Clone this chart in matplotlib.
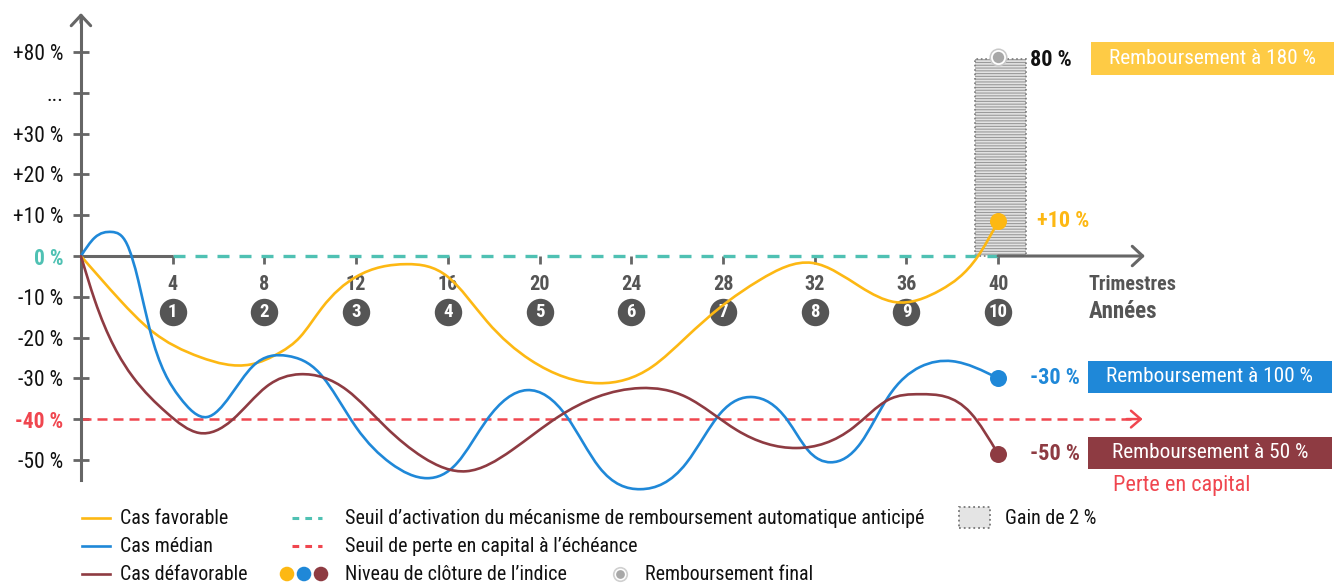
import numpy as np
import matplotlib
matplotlib.use('Agg')
import matplotlib.pyplot as plt
from matplotlib.path import Path
from matplotlib.patches import PathPatch, Rectangle

plt.rcParams['font.family'] = ['Roboto Condensed', 'Liberation Sans Narrow', 'DejaVu Sans Condensed', 'DejaVu Sans']

# --- données (trimestre, niveau de l'indice en %) ---
fav_q = [0, 1.7, 3, 5.2, 7.4, 8.7, 9.55, 10.5, 12, 14.2, 16, 17.7, 19.6, 22.6, 24.9, 26.4, 27.9, 29.6, 31.9, 34, 35.5, 37.5, 39.1, 40]
fav_v = [0, -10.8, -18, -24.8, -26.6, -23.6, -19.9, -12.8, -5.1, -2, -5.1, -16, -25.5, -31.2, -27.2, -19.9, -12.5, -5.9, -1.7, -7.6, -11.3, -8.3, -0.2, 8.5]

med_q = [0, 0.6, 1.35, 2.0, 2.5, 3, 4.3, 5.5, 7.5, 9, 10.4, 12, 13.5, 15.1, 16.4, 17.7, 19.45, 21.2, 22.6, 24.4, 26.4, 27.9, 29.3, 30.8, 31.7, 32.7, 34, 35.2, 36.6, 38, 40]
med_v = [0, 4.5, 5.9, 3, -6, -18, -34.6, -39.5, -27, -24.5, -28.7, -42, -50.8, -54.5, -50.8, -40.2, -32.9, -39.5, -51.8, -57.2, -50.8, -38.5, -34.6, -40.2, -47.6, -50.6, -45.9, -34.6, -27.2, -25.8, -30]

def_q = [0, 0.6, 2.27, 3.75, 5.15, 6.6, 8.1, 9.55, 11.6, 13.3, 14.9, 16.8, 18.8, 20.8, 22.5, 24.4, 26.4, 28.6, 31.2, 33.7, 35.2, 36.6, 38.8, 40]
def_v = [0, -10.8, -29.7, -38.5, -43.4, -40.2, -32, -29, -32.9, -42, -49.3, -52.8, -47.6, -39.5, -34.6, -32.4, -34.6, -42.7, -47.1, -42, -35.3, -33.9, -38.5, -48.6]

quarters = [4, 8, 12, 16, 20, 24, 28, 32, 36, 40]
years = ['1', '2', '3', '4', '5', '6', '7', '8', '9', '10']
y_ticks = [-50, -40, -30, -20, -10, 0, 10, 20, 30, 55, 80]
y_labels = ['-50 %', '-40 %', '-30 %', '-20 %', '-10 %', '0 %', '+10 %', '+20 %', '+30 %', '...', '+80 %']

activation_level = 0
loss_level = -40
gain_top = 76
final_q = 40

YELLOW = '#fdb813'
BLUE = '#1f88d8'
DARKRED = '#8e3b42'
TEAL = '#4fc1b3'
RED = '#f0464f'
GREY = '#666666'
DGREY = '#555555'


def fwd(v):
    v = np.asarray(v, float)
    return np.where(v <= 30, v / 10.0, 3 + (v - 30) / 25.0)


def inv(d):
    d = np.asarray(d, float)
    return np.where(d <= 3, d * 10.0, 30 + (d - 3) * 25.0)


def smooth_path(xs, ys):
    # spline cubique naturelle passant par les points lus, tracée en segments de Bézier
    x = np.asarray(xs, float)
    y = np.asarray(ys, float)
    n = len(x)
    h = np.diff(x)
    A = np.zeros((n, n))
    b = np.zeros(n)
    A[0, 0] = A[-1, -1] = 1
    for i in range(1, n - 1):
        A[i, i - 1] = h[i - 1]
        A[i, i] = 2 * (h[i - 1] + h[i])
        A[i, i + 1] = h[i]
        b[i] = 6 * ((y[i + 1] - y[i]) / h[i] - (y[i] - y[i - 1]) / h[i - 1])
    M = np.linalg.solve(A, b)
    m = np.zeros(n)
    for i in range(n - 1):
        m[i] = (y[i + 1] - y[i]) / h[i] - h[i] * (2 * M[i] + M[i + 1]) / 6
    m[-1] = (y[-1] - y[-2]) / h[-1] + h[-1] * (M[-2] + 2 * M[-1]) / 6
    verts = [(x[0], y[0])]
    codes = [Path.MOVETO]
    for i in range(n - 1):
        verts += [(x[i] + h[i] / 3, y[i] + m[i] * h[i] / 3),
                  (x[i + 1] - h[i] / 3, y[i + 1] - m[i + 1] * h[i] / 3),
                  (x[i + 1], y[i + 1])]
        codes += [Path.CURVE4] * 3
    return Path(verts, codes)


fig = plt.figure(figsize=(13.38, 5.85), dpi=100)
ax = fig.add_axes([0, 0, 1, 1])
ax.set_yscale('function', functions=(fwd, inv))
ax.set_xlim(-3.53, 54.82)
ax.set_ylim(-80.7, 112)

# axes
ax.spines['top'].set_visible(False)
ax.spines['right'].set_visible(False)
ax.spines['left'].set_position(('data', 0))
ax.spines['left'].set_bounds(-55, 102)
ax.spines['left'].set_color(GREY)
ax.spines['left'].set_linewidth(2.2)
ax.spines['bottom'].set_position(('data', 0))
ax.spines['bottom'].set_visible(False)
ax.annotate('', xy=(0, 104), xytext=(0, 98),
            arrowprops=dict(arrowstyle='->,head_width=0.7,head_length=0.75', lw=2.2, color=GREY,
                            shrinkA=0, shrinkB=0))
ax.plot([0, 4], [0, 0], color=GREY, lw=2.2, solid_capstyle='butt', zorder=3)
ax.annotate('', xy=(46.4, 0), xytext=(40, 0),
            arrowprops=dict(arrowstyle='->,head_width=0.7,head_length=0.75', lw=2.2, color=GREY,
                            shrinkA=0, shrinkB=0), zorder=3)

ax.set_yticks(y_ticks)
ax.set_yticklabels(y_labels)
ax.tick_params(axis='y', direction='inout', length=11.5, width=2, color=GREY, labelsize=15.5, pad=7,
               labelcolor='#111111')
for lab in ax.get_yticklabels():
    if lab.get_text() == '0 %':
        lab.set_color(TEAL)
        lab.set_fontweight('bold')
    elif lab.get_text() == '-40 %':
        lab.set_color(RED)
        lab.set_fontweight('bold')

ax.set_xticks(quarters)
ax.set_xticklabels([str(q) for q in quarters])
ax.tick_params(axis='x', direction='out', length=6, width=2, color=GREY, labelsize=14.5, pad=8,
               labelcolor=DGREY)
for lab in ax.get_xticklabels():
    lab.set_fontweight('bold')

# années (numéros cerclés)
ax.scatter(quarters, [-13.7] * len(quarters), s=390, color=DGREY, zorder=2, linewidths=0)
for q, y in zip(quarters, years):
    ax.text(q, -13.7, y, color='white', fontsize=13.5, fontweight='bold', ha='center', va='center', zorder=2)

ax.text(43.95, -6.9, 'Trimestres', color=DGREY, fontsize=14.5, fontweight='bold', ha='left', va='center')
ax.text(43.95, -13.7, 'Années', color=DGREY, fontsize=16.5, fontweight='bold', ha='left', va='center')

# gain de 2 %
plt.rcParams['hatch.linewidth'] = 0.8
ax.bar(40.1, gain_top, width=2.2, bottom=0, color='#e3e3e3', edgecolor='#9a9a9a', hatch='------',
       linewidth=0, zorder=1)
ax.bar(40.1, gain_top, width=2.2, bottom=0, fill=False, edgecolor='#7a7a7a', linestyle=':',
       linewidth=1.2, zorder=1)

# seuils
ax.plot([4, 40], [activation_level] * 2, color=TEAL, lw=2.4, dashes=(3.6, 3.0), zorder=2)
ax.plot([0, 45.8], [loss_level] * 2, color=RED, lw=1.8, dashes=(4, 2.4), zorder=2)
ax.annotate('', xy=(46.3, loss_level), xytext=(45.6, loss_level),
            arrowprops=dict(arrowstyle='->,head_width=0.6,head_length=0.7', lw=1.8, color=RED,
                            shrinkA=0, shrinkB=0))

# courbes
for xs, ys, c in [(fav_q, fav_v, YELLOW), (med_q, med_v, BLUE), (def_q, def_v, DARKRED)]:
    ax.add_patch(PathPatch(smooth_path(xs, ys), fill=False, edgecolor=c, lw=1.9, zorder=4,
                           capstyle='round', joinstyle='round'))
    ax.scatter([xs[-1]], [ys[-1]], s=150, color=c, zorder=5, linewidths=0)

# remboursement final
ax.scatter([final_q], [gain_top + 1], s=170, color='#c8c8c8', zorder=5, linewidths=0)
ax.scatter([final_q], [gain_top + 1], s=90, color='#a8a8a8', edgecolors='white', linewidths=1.3, zorder=6)

# étiquettes à droite
ax.text(41.4, 75, '80 %', color='#111111', fontsize=16, fontweight='bold', ha='left', va='center')
ax.text(41.7, fav_v[-1], '+10 %', color=YELLOW, fontsize=16, fontweight='bold', ha='left', va='center')
ax.text(41.4, med_v[-1], '-30 %', color=BLUE, fontsize=16, fontweight='bold', ha='left', va='center')
ax.text(41.4, def_v[-1], '-50 %', color=DARKRED, fontsize=16, fontweight='bold', ha='left', va='center')

W, H = 1338.0, 585.0


def fx(px):
    return px / W


def fy(py):
    return 1 - py / H


boxes = [(1091, 42, 1334, 75, '#fecb45', 'Remboursement à 180 %'),
         (1088, 361, 1332, 393, BLUE, 'Remboursement à 100 %'),
         (1088, 437, 1332, 469, DARKRED, 'Remboursement à 50 %')]
for x0, y0, x1, y1, c, t in boxes:
    ax.add_patch(Rectangle((fx(x0), fy(y1)), fx(x1) - fx(x0), fy(y0) - fy(y1), transform=ax.transAxes,
                           facecolor=c, edgecolor='none', zorder=3))
    ax.text(fx((x0 + x1) / 2), fy((y0 + y1) / 2), t, transform=ax.transAxes, color='white', fontsize=15.3,
            ha='center', va='center', zorder=4)
ax.text(fx(1113), fy(486), 'Perte en capital', transform=ax.transAxes, color=RED, fontsize=16,
        ha='left', va='center')

# légende
rows = [518, 546, 574]
leg_lines = [('Cas favorable', YELLOW), ('Cas médian', BLUE), ('Cas défavorable', DARKRED)]
for (t, c), r in zip(leg_lines, rows):
    ax.plot([fx(82), fx(110)], [fy(r)] * 2, transform=ax.transAxes, color=c, lw=1.9)
    ax.text(fx(120), fy(r), t, transform=ax.transAxes, fontsize=14.4, color='#111111', va='center')

ax.plot([fx(292), fx(322)], [fy(rows[0])] * 2, transform=ax.transAxes, color=TEAL, lw=2.2, dashes=(2.2, 2.0))
ax.text(fx(345), fy(rows[0]), 'Seuil d\u2019activation du mécanisme de remboursement automatique anticipé',
        transform=ax.transAxes, fontsize=14.4, color='#111111', va='center')
ax.plot([fx(292), fx(322)], [fy(rows[1])] * 2, transform=ax.transAxes, color=RED, lw=2.2, dashes=(2.2, 2.0))
ax.text(fx(345), fy(rows[1]), 'Seuil de perte en capital à l\u2019échéance',
        transform=ax.transAxes, fontsize=14.4, color='#111111', va='center')
ax.scatter([fx(287), fx(304), fx(321)], [fy(rows[2])] * 3, transform=ax.transAxes, s=110,
           color=[YELLOW, BLUE, DARKRED], linewidths=0)
ax.text(fx(345), fy(rows[2]), 'Niveau de clôture de l\u2019indice',
        transform=ax.transAxes, fontsize=14.4, color='#111111', va='center')

ax.scatter([fx(620)], [fy(rows[2])], transform=ax.transAxes, s=120, color='#d0d0d0', linewidths=0)
ax.scatter([fx(620)], [fy(rows[2])], transform=ax.transAxes, s=55, color='#a8a8a8', edgecolors='white',
           linewidths=1.1)
ax.text(fx(645), fy(rows[2]), 'Remboursement final', transform=ax.transAxes, fontsize=14.4, color='#111111',
        va='center')

ax.add_patch(Rectangle((fx(959), fy(528)), fx(990) - fx(959), fy(507) - fy(528), transform=ax.transAxes,
                       facecolor='#e4e4e4', edgecolor='#777777', linestyle=':', lw=1.3))
ax.text(fx(1005), fy(rows[0]), 'Gain de 2 %', transform=ax.transAxes, fontsize=14.4, color='#111111',
        va='center')

fig.savefig('out.png', dpi=100)
